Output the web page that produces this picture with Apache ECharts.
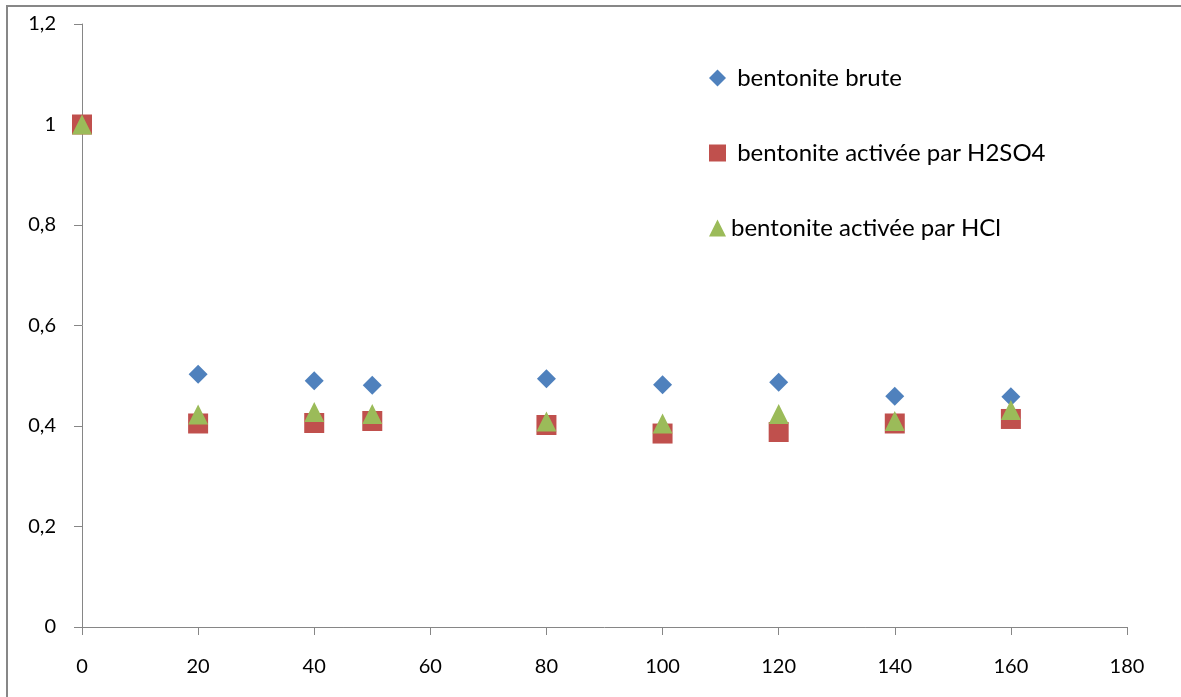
<!DOCTYPE html>
<html>
<head>
<meta charset="utf-8">
<script src="https://cdn.jsdelivr.net/npm/echarts@6/dist/echarts.min.js"></script>
<style>
  html, body { margin: 0; padding: 0; background: #fff; }
  #chart { width: 1181px; height: 697px; }
</style>
</head>
<body>
<div id="chart"></div>
<script>
// Contact time (min) and relative concentration for each adsorbent
const times = [0, 20, 40, 50, 80, 100, 120, 140, 160];
const bruteValues = [1, 0.503, 0.490, 0.481, 0.494, 0.482, 0.487, 0.459, 0.458];
const h2so4Values = [1, 0.405, 0.406, 0.410, 0.402, 0.385, 0.388, 0.405, 0.414];
const hclValues   = [1, 0.423, 0.428, 0.424, 0.409, 0.405, 0.424, 0.410, 0.432];
const seriesNames = ['bentonite brute', 'bentonite activée par H2SO4', 'bentonite activée par HCl'];

const pairs = vals => times.map((t, i) => [t, vals[i]]);
const font = 'Lato, "Open Sans", sans-serif';

const chart = echarts.init(document.getElementById('chart'), null, { renderer: 'canvas' });
chart.setOption({
  animation: false,
  backgroundColor: '#ffffff',
  textStyle: { fontFamily: font },
  graphic: [{
    type: 'rect',
    shape: { x: 7, y: 6, width: 1400, height: 900 },
    style: { fill: 'none', stroke: '#878787', lineWidth: 2 },
    silent: true
  }],
  grid: { left: 82, right: 54, top: 24, bottom: 70 },
  legend: {
    orient: 'vertical',
    left: 704,
    top: 61,
    itemGap: 51,
    itemWidth: 17,
    itemHeight: 17,
    formatter: name => (name === seriesNames[2] ? name : ' ' + name),
    textStyle: { fontFamily: font, fontSize: 24, color: '#000' },
    data: [
      { name: seriesNames[0], icon: 'diamond', itemStyle: { color: '#4F81BD', opacity: 1 } },
      { name: seriesNames[1], icon: 'rect', itemStyle: { color: '#C0504D', opacity: 1 } },
      { name: seriesNames[2], icon: 'triangle', itemStyle: { color: '#9BBB59', opacity: 1 } }
    ]
  },
  xAxis: {
    type: 'value',
    min: 0, max: 180, interval: 20,
    axisLine: { show: true, lineStyle: { color: '#868686', width: 1 } },
    axisTick: { show: true, length: 8, lineStyle: { color: '#868686' } },
    axisLabel: { color: '#000', fontSize: 20, fontFamily: font, margin: 30 },
    splitLine: { show: false }
  },
  yAxis: {
    type: 'value',
    min: 0, max: 1.2, interval: 0.2,
    axisLine: { show: true, lineStyle: { color: '#868686', width: 1 } },
    axisTick: { show: true, length: 8, lineStyle: { color: '#868686' } },
    axisLabel: {
      color: '#000', fontSize: 20, fontFamily: font, margin: 26,
      formatter: v => String(Math.round(v * 10) / 10).replace('.', ',')
    },
    splitLine: { show: false }
  },
  series: [
    {
      name: seriesNames[0], type: 'scatter', symbol: 'diamond', symbolSize: 19,
      itemStyle: { color: '#4F81BD', opacity: 1 }, data: pairs(bruteValues)
    },
    {
      name: seriesNames[1], type: 'scatter', symbol: 'rect', symbolSize: 20,
      itemStyle: { color: '#C0504D', opacity: 1 }, data: pairs(h2so4Values)
    },
    {
      name: seriesNames[2], type: 'scatter', symbol: 'triangle', symbolSize: 20,
      itemStyle: { color: '#9BBB59', opacity: 1 }, data: pairs(hclValues)
    }
  ]
});
</script>
</body>
</html>
